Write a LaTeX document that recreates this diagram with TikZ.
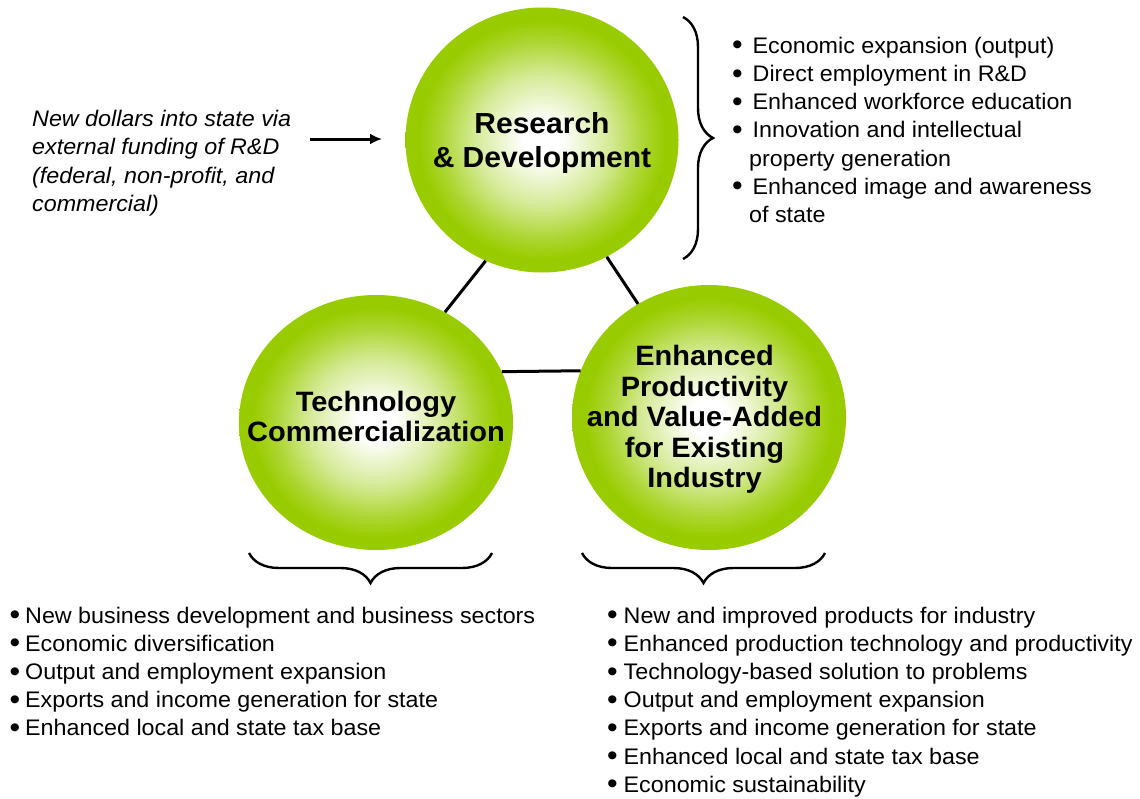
\documentclass[tikz,border=0pt]{standalone}
\usepackage{fontspec}
\usepackage{graphicx}
\setmainfont{Liberation Sans}[FakeStretch=1.035]
\usetikzlibrary{shapes.geometric,decorations.pathreplacing,arrows.meta}

\definecolor{ballgreen}{RGB}{153,204,0}
\pgfdeclareradialshading{ball}{\pgfpoint{0bp}{0bp}}{color(0bp)=(white); color(3.5bp)=(white); color(12.5bp)=(ballgreen!42); color(18.5bp)=(ballgreen!80); color(22.5bp)=(ballgreen); color(50bp)=(ballgreen)}
\newcommand{\bul}[1][16pt]{\makebox[#1][l]{\raisebox{-1.6pt}{\scalebox{1.3}{\textbullet}}}}

\begin{document}
\begin{tikzpicture}[>={Latex[length=12pt,width=11pt]}, x=1pt, y=-1pt,
        ball/.style={ellipse, shade, shading=ball, inner sep=0pt},
        balltxt/.style={align=center, inner sep=0pt, font=\bfseries\fontsize{28}{30.5}\selectfont},
        txt/.style={anchor=base west, inner sep=0pt, font=\fontsize{22.5}{28}\selectfont},
        itxt/.style={txt, font=\itshape\fontsize{22.5}{28}\selectfont},
        link/.style={line width=3pt},
        brc/.style={decorate, decoration={brace, amplitude=30pt}, line width=2.4pt}]
        \path[fill=white, use as bounding box] (0,0) rectangle (1140,798);

        % the three balls
        \node[ball, minimum width=273pt, minimum height=265pt] (rd) at (542,140) {};
        \node[ball, minimum width=274pt, minimum height=255pt] (tc) at (376,422.5) {};
        \node[ball, minimum width=274pt, minimum height=265pt] (en) at (709,417.5) {};
        \node[balltxt, font=\bfseries\fontsize{29}{34}\selectfont] (rdt) at (542,143) {Research\\ \& Development};
        \node[balltxt] (tct) at (376,416.5) {Technology\\ Commercialization};
        \node[balltxt] (ent) at (704.5,419.3) {Enhanced\\ Productivity\\ and Value-Added\\ for Existing\\ Industry};

        \draw[link] (rd.245) -- (tc.58);
        \draw[link] (rd.299) -- (en.122);
        \draw[link] (tc.22) -- (en.160);

        % funding
        \foreach \t [count=\i] in {New dollars into state via, external funding of R\&D, {(federal, non-profit, and}, commercial)}
        {
            \node[itxt] (fund\i) at (32,{126.5+28.3*(\i-1)}) {\t};
        }
        \coordinate (fs) at (310,139);
        \coordinate (fe) at (382,139);
        \draw[->, line width=3pt] (fs) -- (fe);

        % braces
        \draw[brc] (683,17) -- (683,259);
        \draw[brc] (492,553) -- (249,553);
        \draw[brc] (825,553) -- (582,553);

        % lists
        \foreach \x/\t [count=\i] in {732/{\bul[20.5pt]Economic expansion (output)}, 732/{\bul[20.5pt]Direct employment in R\&D}, 732/{\bul[20.5pt]Enhanced workforce education}, 732/{\bul[20.5pt]Innovation and intellectual}, 749/{property generation}, 732/{\bul[20.5pt]Enhanced image and awareness}, 749/{of state}}
        {
            \node[txt] (rdl\i) at (\x,{53.3+28.2*(\i-1)}) {\t};
        }
        \foreach \t [count=\i] in {New business development and business sectors, Economic diversification, Output and employment expansion, Exports and income generation for state, Enhanced local and state tax base}
        {
            \node[txt] (tcl\i) at (9.5,{623+28.2*(\i-1)}) {\bul[15.5pt]\t};
        }
        \foreach \t [count=\i] in {New and improved products for industry, Enhanced production technology and productivity, Technology-based solution to problems, Output and employment expansion, Exports and income generation for state, Enhanced local and state tax base, Economic sustainability}
        {
            \node[txt] (enl\i) at (607,{623+28.2*(\i-1)}) {\bul[16.5pt]\t};
        }
\end{tikzpicture}
\end{document}
